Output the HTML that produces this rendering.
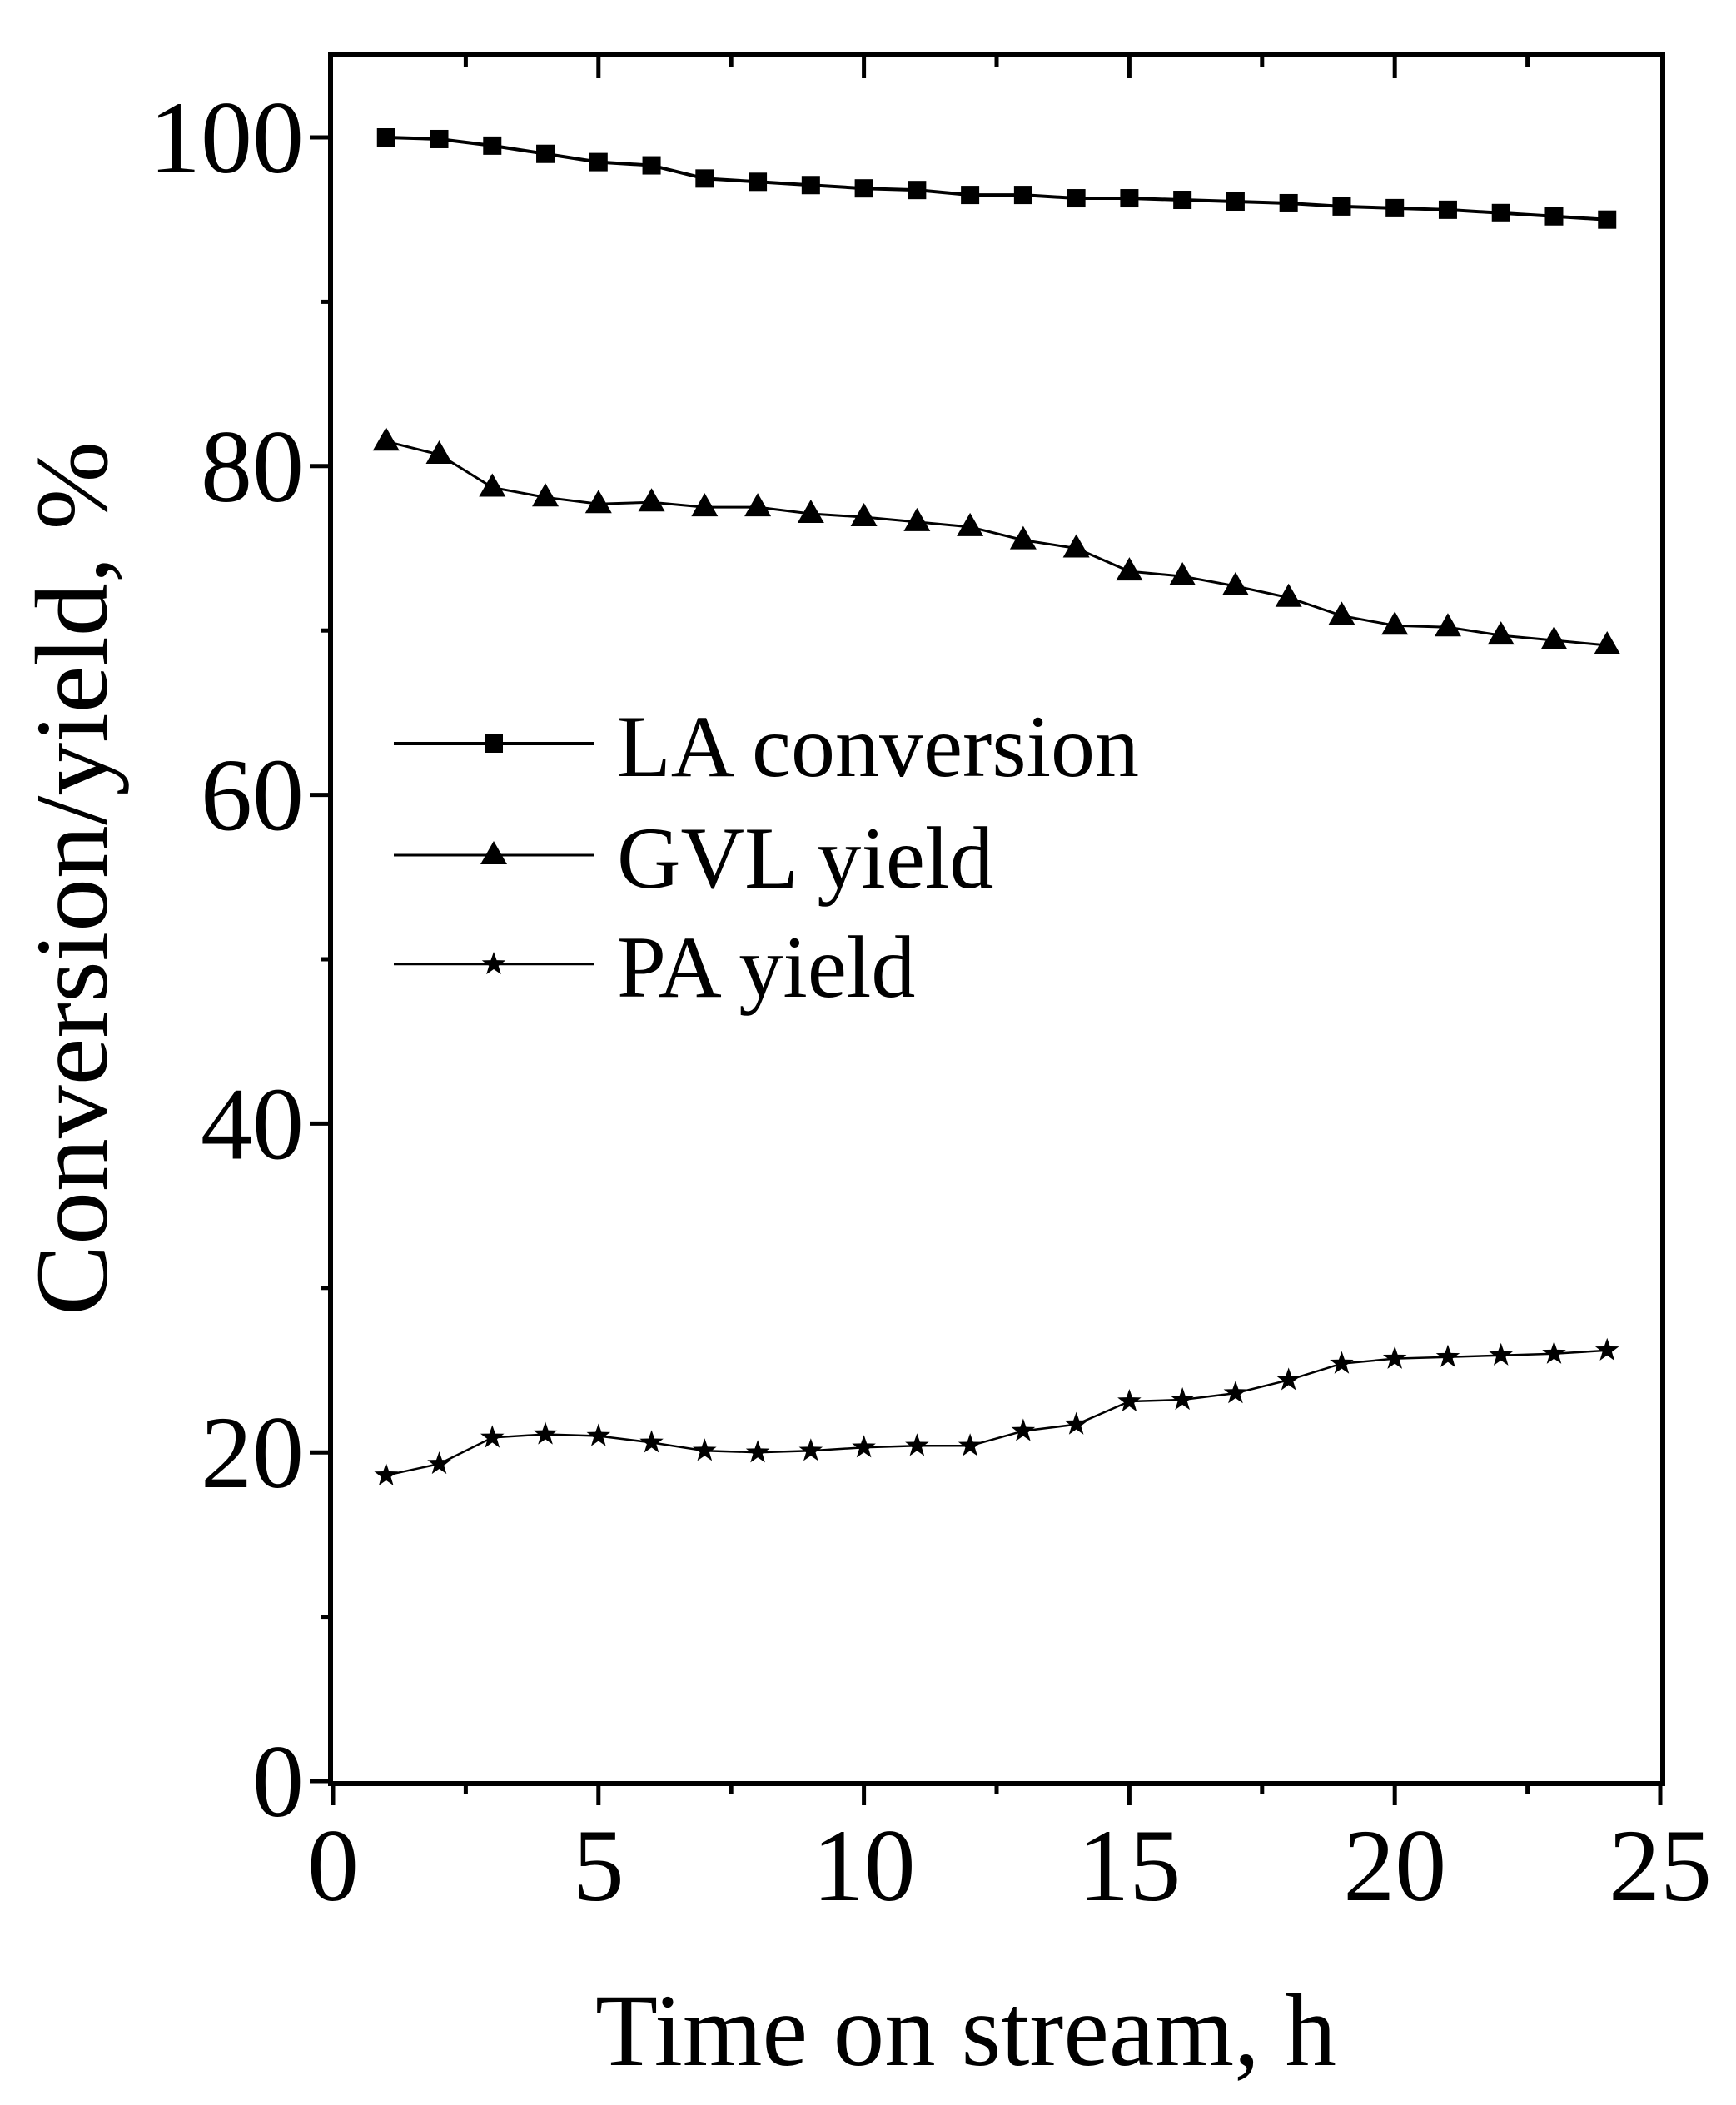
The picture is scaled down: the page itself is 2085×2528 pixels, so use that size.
<!DOCTYPE html>
<html><head><meta charset="utf-8"><style>
html,body{margin:0;padding:0;background:#fff;}
svg{display:block;}
text{font-family:"Liberation Serif",serif;fill:#000;}
</style></head><body>
<svg id="s" width="2085" height="2528" viewBox="0 0 2085 2528" xmlns="http://www.w3.org/2000/svg">
<rect width="2085" height="2528" fill="#fff"/>
<g id="g"></g>
<text x="1160" y="2480" font-size="124" text-anchor="middle" textLength="890" lengthAdjust="spacingAndGlyphs">Time on stream, h</text>
<text transform="translate(128,1055) rotate(-90)" font-size="124" text-anchor="middle" textLength="1050" lengthAdjust="spacingAndGlyphs">Conversion/yield, %</text>
<text x="741" y="932" font-size="106">LA conversion</text>
<text x="741" y="1066" font-size="106">GVL yield</text>
<text x="741" y="1197" font-size="106">PA yield</text>
</svg>
<script>
var g=document.getElementById('g'),NS='http://www.w3.org/2000/svg';
function X(v){return 400+v*63.76;}function Y(v){return 2139-v*19.74;}
function el(t,a){var e=document.createElementNS(NS,t);for(var k in a)e.setAttribute(k,a[k]);g.appendChild(e);return e;}
el('rect',{x:397,y:65,width:1600,height:2077,fill:'none',stroke:'#000','stroke-width':6});
for(var i=0;i<=10;i++){var v=i*2.5,x=X(v),maj=(i%2==0);
 el('line',{x1:x,y1:2139,x2:x,y2:2139+(maj?29:15),stroke:'#000','stroke-width':5});
 if(i>0&&i<10)el('line',{x1:x,y1:68,x2:x,y2:68+(maj?26:12),stroke:'#000','stroke-width':5});
 if(maj){var t=el('text',{x:x,y:2282,'font-size':124,'text-anchor':'middle'});t.textContent=v;}}
for(var j=0;j<=10;j++){var v=j*10,y=Y(v),maj=(j%2==0);
 el('line',{x1:400,y1:y,x2:400-(maj?28:14),y2:y,stroke:'#000','stroke-width':5});
 if(maj){var t=el('text',{x:365,y:y+42,'font-size':124,'text-anchor':'end'});t.textContent=v;}}
var LA=[100,99.9,99.5,99,98.5,98.3,97.5,97.3,97.1,96.9,96.8,96.5,96.5,96.3,96.3,96.2,96.1,96,95.8,95.7,95.6,95.4,95.2,95.0];
var GV=[81.5,80.7,78.7,78.1,77.7,77.8,77.5,77.5,77.1,76.9,76.6,76.3,75.5,75,73.6,73.3,72.7,72,70.9,70.3,70.2,69.7,69.4,69.1];
var PA=[18.6,19.3,20.9,21.1,21,20.6,20.1,20,20.1,20.3,20.4,20.4,21.3,21.7,23.1,23.2,23.6,24.4,25.4,25.7,25.8,25.9,26,26.2];
function line(d,w){var p=d.map(function(v,i){return X(i+1)+','+Y(v)}).join(' ');el('polyline',{points:p,fill:'none',stroke:'#000','stroke-width':w});}
function sq(x,y){el('rect',{x:x-11,y:y-11,width:22,height:22,fill:'#000'});}
function tri(x,y){el('polygon',{points:(x)+','+(y-17)+' '+(x-16)+','+(y+11)+' '+(x+16)+','+(y+11),fill:'#000'});}
function star(x,y){var p=[];for(var k=0;k<10;k++){var r=k%2?6:15,a=-Math.PI/2+k*Math.PI/5;p.push((x+r*Math.cos(a))+','+(y+r*Math.sin(a)));}el('polygon',{points:p.join(' '),fill:'#000'});}
line(LA,4);line(GV,3);line(PA,2.5);
LA.forEach(function(v,i){sq(X(i+1),Y(v));});
GV.forEach(function(v,i){tri(X(i+1),Y(v));});
PA.forEach(function(v,i){star(X(i+1),Y(v));});
el('line',{x1:473,y1:893,x2:714,y2:893,stroke:'#000','stroke-width':4});sq(593,893);
el('line',{x1:473,y1:1027,x2:714,y2:1027,stroke:'#000','stroke-width':3});tri(593,1027);
el('line',{x1:473,y1:1158,x2:714,y2:1158,stroke:'#000','stroke-width':2.5});star(593,1158);
</script>
</body></html>
